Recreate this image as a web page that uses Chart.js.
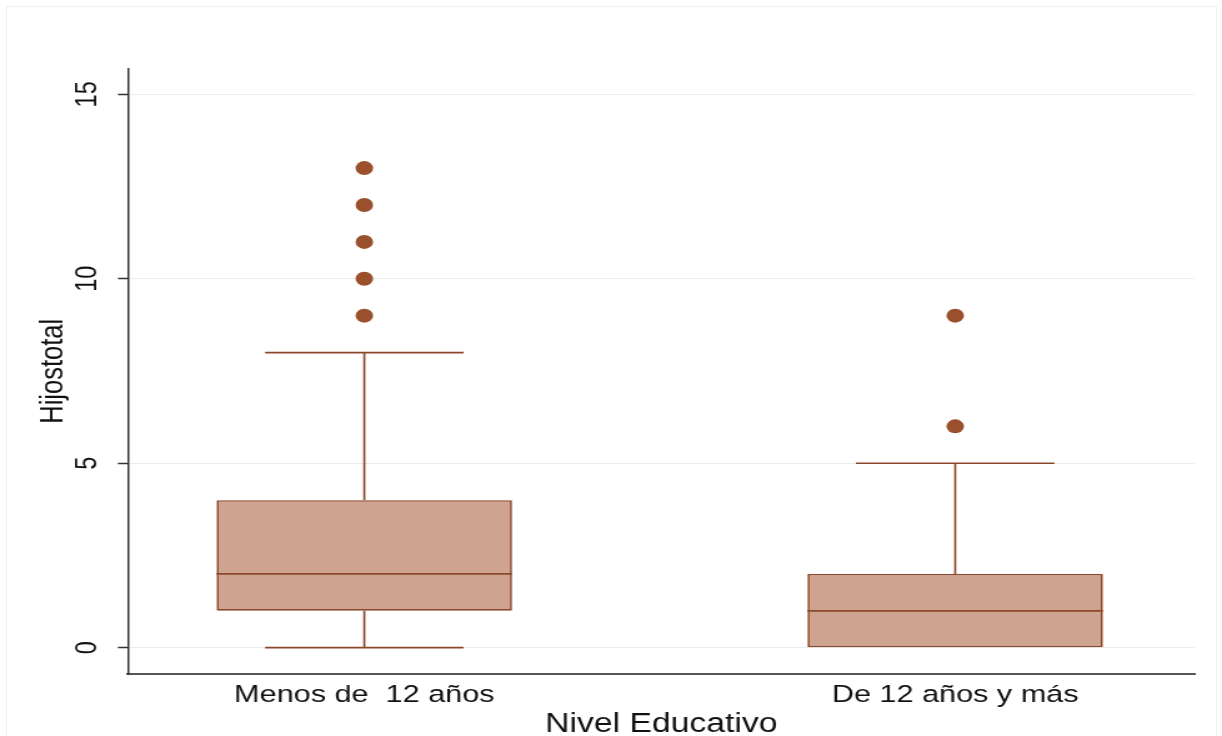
<!DOCTYPE html>
<html>
<head>
<meta charset="utf-8">
<script src="https://cdn.jsdelivr.net/npm/chart.js@4/dist/chart.umd.min.js"></script>
<style>
  html, body { margin: 0; padding: 0; background: #fff; overflow: hidden; }
  #frame { position: absolute; left: 6px; top: 6px; width: 1211px; height: 740px; border: 1px solid #f0f0f0; box-sizing: border-box; }
  #wrap { position: absolute; left: 0; top: 0; }
</style>
</head>
<body>
<div id="frame"></div>
<div id="wrap">
  <!-- the reference is stretched sideways, so the canvas is drawn narrower and widened by css -->
  <canvas id="boxChart" width="978" height="736" style="width:1222px;height:736px"></canvas>
</div>
<script>
// Hijostotal por nivel educativo
const categories = ['Menos de  12 años', 'De 12 años y más'];
const whiskerLow = [0, 0];
const q1 = [1, 0];
const median = [2, 1];
const q3 = [4, 2];
const whiskerHigh = [8, 5];
const outliers = [[9, 10, 11, 12, 13], [6, 9]];
const yTicks = [0, 5, 10, 15];

const lineColor = 'rgb(140, 72, 42)';
const fillColor = 'rgb(206, 164, 144)';
const dotColor = 'rgb(154, 80, 44)';
const capWidth = 0.336;   // in x units

const boxData = categories.map(function (c, i) {
    return { x: i + 1, y: [q1[i], q3[i]] };
});
const dotData = [];
outliers.forEach(function (list, i) {
    list.forEach(function (v) {
        dotData.push({ x: i + 1, y: v });
    });
});

// whiskers, caps and median lines
const boxParts = {
    id: 'boxParts',
    afterDatasetsDraw: function (chart) {
        var ctx = chart.ctx;
        var xs = chart.scales.x;
        var ys = chart.scales.y;
        var bars = chart.getDatasetMeta(0).data;
        ctx.save();
        ctx.strokeStyle = lineColor;
        ctx.lineWidth = 1.7;
        for (var i = 0; i < categories.length; i++) {
            var cx = xs.getPixelForValue(i + 1);
            var capL = xs.getPixelForValue(i + 1 - capWidth / 2);
            var capR = xs.getPixelForValue(i + 1 + capWidth / 2);
            var bar = bars[i];
            ctx.beginPath();
            // upper whisker
            ctx.moveTo(cx, ys.getPixelForValue(q3[i]));
            ctx.lineTo(cx, ys.getPixelForValue(whiskerHigh[i]));
            ctx.moveTo(capL, ys.getPixelForValue(whiskerHigh[i]));
            ctx.lineTo(capR, ys.getPixelForValue(whiskerHigh[i]));
            // lower whisker
            if (whiskerLow[i] < q1[i]) {
                ctx.moveTo(cx, ys.getPixelForValue(q1[i]));
                ctx.lineTo(cx, ys.getPixelForValue(whiskerLow[i]));
                ctx.moveTo(capL, ys.getPixelForValue(whiskerLow[i]));
                ctx.lineTo(capR, ys.getPixelForValue(whiskerLow[i]));
            }
            // median
            ctx.moveTo(bar.x - bar.width / 2, ys.getPixelForValue(median[i]));
            ctx.lineTo(bar.x + bar.width / 2, ys.getPixelForValue(median[i]));
            ctx.stroke();
        }
        ctx.restore();
    }
};

const config = {
    type: 'bar',
    data: {
        datasets: [{
            type: 'bar',
            data: boxData,
            backgroundColor: fillColor,
            borderColor: lineColor,
            borderWidth: 1.7,
            borderSkipped: false,
            categoryPercentage: 0.5,
            barPercentage: 1
        }, {
            type: 'scatter',
            data: dotData,
            pointRadius: 7,
            pointBackgroundColor: dotColor,
            pointBorderWidth: 0,
            showLine: false
        }]
    },
    options: {
        responsive: false,
        animation: false,
        layout: { padding: { left: 0, top: 68.3, right: 22, bottom: 0 } },
        plugins: { legend: { display: false }, tooltip: { enabled: false } },
        scales: {
            x: {
                type: 'linear',
                offset: false,
                min: 0.6,
                max: 2.405,
                afterBuildTicks: function (scale) {
                    scale.ticks = categories.map(function (c, i) { return { value: i + 1 }; });
                },
                afterFit: function (scale) { scale.height = 61.7; },
                grid: { display: false, drawTicks: false, offset: false },
                border: { display: true, color: '#555', width: 2 },
                ticks: {
                    autoSkip: false,
                    maxRotation: 0,
                    padding: 6,
                    color: '#111',
                    font: { family: 'Liberation Sans', size: 24.5 },
                    callback: function (v) { return categories[v - 1]; }
                },
                title: {
                    display: true,
                    text: 'Nivel Educativo',
                    color: '#111',
                    padding: { top: 0, bottom: 0 },
                    font: { family: 'Liberation Sans', size: 27, lineHeight: 0.85 }
                }
            },
            y: {
                min: -0.721,
                max: 15.705,
                afterBuildTicks: function (scale) {
                    scale.ticks = yTicks.map(function (v) { return { value: v }; });
                },
                afterFit: function (scale) { scale.width = 102.4; },
                grid: { color: '#ececec', lineWidth: 1, tickLength: 8, tickColor: '#333', tickWidth: 1.5 },
                border: { display: true, color: '#333', width: 1.5 },
                ticks: {
                    minRotation: 90,
                    maxRotation: 90,
                    crossAlign: 'center',
                    padding: 10.8,
                    color: '#111',
                    font: { family: 'Liberation Sans', size: 23.5 }
                },
                title: {
                    display: true,
                    text: 'Hijostotal',
                    color: '#111',
                    padding: { top: 27.5, bottom: 0 },
                    font: { family: 'Liberation Sans', size: 25.5 }
                }
            }
        }
    },
    plugins: [boxParts]
};

const myChart = new Chart(document.getElementById('boxChart'), config);
</script>
</body>
</html>
